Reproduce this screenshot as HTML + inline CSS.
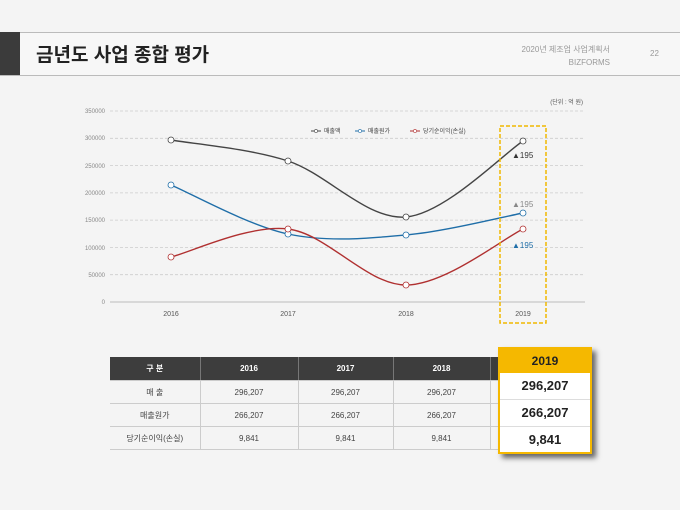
<!DOCTYPE html>
<html><head><meta charset="utf-8"><style>
body{margin:0;width:680px;height:510px;overflow:hidden;background:#f4f4f4;font-family:"Liberation Sans","Noto Sans CJK KR",sans-serif;position:relative}
.hdr{position:absolute;left:0;top:32px;width:680px;height:42px;border-top:1px solid #bbb;border-bottom:1px solid #bbb;background:#f7f7f7}
.blk{position:absolute;left:0;top:32px;width:20px;height:43px;background:#3b3b3b}
.title{position:absolute;left:36px;top:40px;font-size:19px;font-weight:bold;color:#222}
.sub{position:absolute;right:70px;top:43px;font-size:8px;color:#999;text-align:right;line-height:13px}
.pg{position:absolute;left:650px;top:49px;font-size:8px;color:#999}
table{position:absolute;left:110px;top:357px;border-collapse:collapse;font-size:8px;color:#444;table-layout:fixed;width:480px}
td,th{padding:0;height:22px;text-align:center;border-bottom:1px solid #ccc;border-right:1px solid #ccc}
th{background:#3d3d3d;color:#fff;height:23px;font-weight:bold;border-right:1px solid #777}
.hl{position:absolute;left:498px;top:347px;width:94px;height:107px;background:#fff;border:2px solid #f5b800;box-shadow:4px 4px 5px #666;box-sizing:border-box}
.hl div{height:26px;line-height:26px;text-align:center;font-weight:bold;font-size:13px;color:#222;border-bottom:1px solid #ddd}
.hl .h{background:#f5b800;height:24px;line-height:24px;font-size:12px;border:none}
</style></head><body>
<div class="hdr"></div><div class="blk"></div>
<div class="title">금년도 사업 종합 평가</div>
<div class="sub">2020년 제조업 사업계획서<br>BIZFORMS</div><div class="pg">22</div>
<svg width="680" height="510" style="position:absolute;left:0;top:0" font-family="Liberation Sans, Noto Sans CJK KR, sans-serif">
<g stroke="#ccc" stroke-dasharray="3,2" stroke-width="0.8">
<line x1="110" x2="585" y1="111" y2="111"/><line x1="110" x2="585" y1="138.3" y2="138.3"/><line x1="110" x2="585" y1="165.6" y2="165.6"/><line x1="110" x2="585" y1="192.9" y2="192.9"/><line x1="110" x2="585" y1="220.1" y2="220.1"/><line x1="110" x2="585" y1="247.4" y2="247.4"/><line x1="110" x2="585" y1="274.7" y2="274.7"/></g>
<line x1="110" x2="585" y1="302" y2="302" stroke="#bbb"/>
<g font-size="6" fill="#888" text-anchor="end">
<text x="105" y="113">350000</text><text x="105" y="140">300000</text><text x="105" y="168">250000</text><text x="105" y="195">200000</text><text x="105" y="222">150000</text><text x="105" y="250">100000</text><text x="105" y="277">50000</text><text x="105" y="304">0</text></g>
<g font-size="7" fill="#555" text-anchor="middle"><text x="171" y="316">2016</text><text x="288" y="316">2017</text><text x="406" y="316">2018</text><text x="523" y="316">2019</text></g>
<text x="583" y="104" font-size="6" fill="#555" text-anchor="end">(단위 : 억 원)</text>
<g fill="none" stroke-width="1.4">
<path d="M171,140 C190.5,143.5 248.8,148.2 288,161 C327.2,173.8 366.8,220.3 406,217 C445.2,213.7 503.5,153.7 523,141" stroke="#444"/>
<path d="M171,185 C190.5,193.2 248.8,225.7 288,234 C327.2,242.3 366.8,238.5 406,235 C445.2,231.5 503.5,216.7 523,213" stroke="#1f6ea8"/>
<path d="M171,257 C190.5,252.3 248.8,224.3 288,229 C327.2,233.7 366.8,285 406,285 C445.2,285 503.5,238.3 523,229" stroke="#b03030"/>
</g>
<g fill="#fff" stroke-width="0.8">
<g stroke="#444"><circle cx="171" cy="140" r="3"/><circle cx="288" cy="161" r="3"/><circle cx="406" cy="217" r="3"/><circle cx="523" cy="141" r="3"/></g>
<g stroke="#1f6ea8"><circle cx="171" cy="185" r="3"/><circle cx="288" cy="234" r="3"/><circle cx="406" cy="235" r="3"/><circle cx="523" cy="213" r="3"/></g>
<g stroke="#b03030"><circle cx="171" cy="257" r="3"/><circle cx="288" cy="229" r="3"/><circle cx="406" cy="285" r="3"/><circle cx="523" cy="229" r="3"/></g>
</g>
<rect x="500" y="126" width="46" height="197" fill="none" stroke="#f0b800" stroke-width="1.5" stroke-dasharray="4,2"/>
<g font-size="8"><text x="512" y="158" fill="#333">▲195</text><text x="512" y="207" fill="#888">▲195</text><text x="512" y="248" fill="#1f6ea8">▲195</text></g>
<g font-size="6" fill="#444">
<line x1="311" x2="321" y1="131" y2="131" stroke="#444"/><circle cx="316" cy="131" r="1.6" fill="#fff" stroke="#444" stroke-width="0.6"/><text x="324" y="133">매출액</text>
<line x1="355" x2="365" y1="131" y2="131" stroke="#1f6ea8"/><circle cx="360" cy="131" r="1.6" fill="#fff" stroke="#1f6ea8" stroke-width="0.6"/><text x="368" y="133">매출원가</text>
<line x1="410" x2="420" y1="131" y2="131" stroke="#b03030"/><circle cx="415" cy="131" r="1.6" fill="#fff" stroke="#b03030" stroke-width="0.6"/><text x="423" y="133">당기순이익(손실)</text>
</g>
</svg>
<table>
<colgroup><col style="width:90px"><col style="width:98px"><col style="width:95px"><col style="width:97px"><col style="width:100px"></colgroup>
<tr><th>구 분</th><th>2016</th><th>2017</th><th>2018</th><th>2019</th></tr>
<tr><td>매 출</td><td>296,207</td><td>296,207</td><td>296,207</td><td></td></tr>
<tr><td>매출원가</td><td>266,207</td><td>266,207</td><td>266,207</td><td></td></tr>
<tr><td>당기순이익(손실)</td><td>9,841</td><td>9,841</td><td>9,841</td><td></td></tr>
</table>
<div class="hl"><div class="h">2019</div><div>296,207</div><div>266,207</div><div style="border:none">9,841</div></div>
</body></html>
